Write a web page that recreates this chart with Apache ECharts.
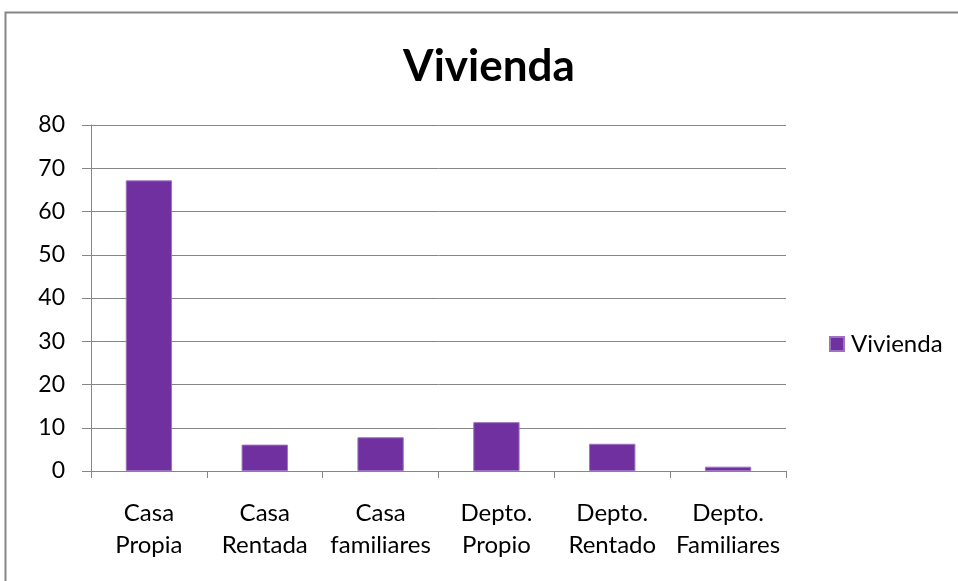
<!DOCTYPE html>
<html><head><meta charset="utf-8">
<script src="https://cdn.jsdelivr.net/npm/echarts@6/dist/echarts.min.js"></script>
<style>html,body{margin:0;padding:0;background:#fff}#c{width:958px;height:581px}</style>
</head><body><div id="c"></div>
<script>
const categories = ['Casa\nPropia', 'Casa\nRentada', 'Casa\nfamiliares', 'Depto.\nPropio', 'Depto.\nRentado', 'Depto.\nFamiliares'];
const values = [67.2, 6.1, 7.8, 11.3, 6.3, 1];
const seriesName = 'Vivienda';
const titleText = 'Vivienda';
const yTicks = { min: 0, max: 80, interval: 10 };

const font = 'Lato, Carlito, Calibri, "Noto Sans", sans-serif';
const chart = echarts.init(document.getElementById('c'), null, { renderer: 'canvas' });
chart.setOption({
  animation: false,
  backgroundColor: '#fff',
  title: { text: titleText, left: 484, top: 40, textAlign: 'center',
    textStyle: { fontFamily: font, fontWeight: 'bold', fontSize: 44, color: '#000' } },
  legend: { data: [seriesName], left: 829, top: 332, padding: 0, itemWidth: 14, itemHeight: 14, itemGap: 8,
    icon: 'rect', textStyle: { fontFamily: font, fontSize: 24, color: '#000', padding: [0, 0, 0, 2] } },
  grid: { left: 91, right: 172, top: 125, bottom: 110, containLabel: false },
  xAxis: { type: 'category', data: categories,
    axisLine: { lineStyle: { color: '#868686', width: 1 } },
    axisTick: { show: true, alignWithLabel: false, length: 7, lineStyle: { color: '#868686' } },
    axisLabel: { fontFamily: font, fontSize: 24, color: '#000', lineHeight: 32, margin: 26, interval: 0 } },
  yAxis: { type: 'value', min: yTicks.min, max: yTicks.max, interval: yTicks.interval,
    axisLine: { show: true, lineStyle: { color: '#868686', width: 1 } },
    axisTick: { show: true, length: 9, lineStyle: { color: '#868686' } },
    splitLine: { lineStyle: { color: '#868686', width: 1 } },
    axisLabel: { fontFamily: font, fontSize: 23, color: '#000', margin: 26 } },
  series: [{ name: seriesName, type: 'bar', data: values, barWidth: '40%',
    itemStyle: { color: '#7030A0', borderColor: '#9d72c0', borderWidth: 1 } }],
  graphic: [{ type: 'rect', shape: { x: 5.5, y: 12.5, width: 980, height: 600 },
    style: { fill: 'none', stroke: '#868686', lineWidth: 2 }, silent: true, z: 100 }]
});
</script></body></html>
